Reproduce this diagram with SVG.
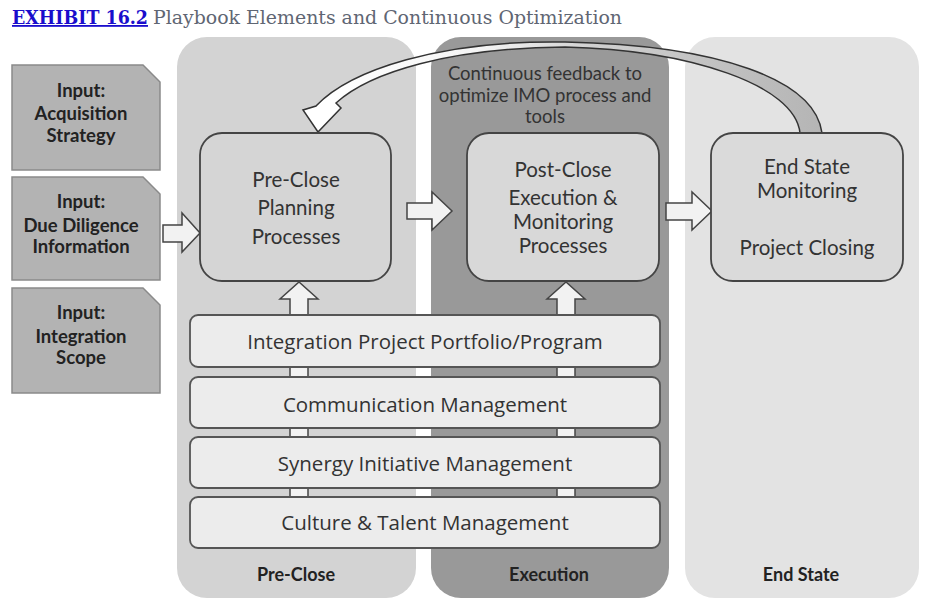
<svg xmlns="http://www.w3.org/2000/svg" width="928" height="612" viewBox="0 0 928 612">
<defs>
<style>
.col{stroke:none}
.inp{fill:#b3b3b3;stroke:#8a8a8a;stroke-width:1.5}
.inpt{font-family:Lato,"Open Sans",sans-serif;font-weight:bold;font-size:18.5px;fill:#222;text-anchor:middle}
.box{stroke:#444;stroke-width:1.8}
.bt{font-family:Lato,"Open Sans",sans-serif;font-size:20.5px;fill:#333;text-anchor:middle}
.br{font-family:"Open Sans","Noto Sans",sans-serif;font-size:20.5px;fill:#333;text-anchor:middle}
.fbt{font-family:Lato,"Open Sans",sans-serif;font-size:18.5px;fill:#333;text-anchor:middle}
.bar{fill:#ececec;stroke:#555;stroke-width:1.8}
.blk{fill:#f2f2f2;stroke:#444;stroke-width:1.5;stroke-linejoin:miter}
.lab{font-family:Lato,"Open Sans",sans-serif;font-weight:bold;font-size:18px;fill:#222;text-anchor:middle}
</style>
<linearGradient id="fb" x1="820" y1="0" x2="330" y2="0" gradientUnits="userSpaceOnUse">
<stop offset="0" stop-color="#b5b5b5"/>
<stop offset="0.45" stop-color="#cfcfcf"/>
<stop offset="0.7" stop-color="#f5f5f5"/>
<stop offset="1" stop-color="#ffffff"/>
</linearGradient>
</defs>
<rect width="928" height="612" fill="#ffffff"/>
<g id="title">
<text x="12" y="24" font-family="'DejaVu Serif','Liberation Serif',serif" font-size="18px" font-weight="bold" fill="#1a0dcc" text-decoration="underline" textLength="136" lengthAdjust="spacingAndGlyphs">EXHIBIT 16.2</text>
<text x="153" y="24" font-family="'DejaVu Serif','Liberation Serif',serif" font-size="18px" fill="#5f6673" textLength="469" lengthAdjust="spacingAndGlyphs">Playbook Elements and Continuous Optimization</text>
</g>
<g id="col-preclose"><rect class="col" x="177" y="37" width="239" height="561" rx="30" fill="#d3d3d3"/></g>
<g id="col-execution"><rect class="col" x="431" y="37" width="238" height="561" rx="30" fill="#999999"/></g>
<g id="col-endstate"><rect class="col" x="685" y="37" width="234" height="561" rx="30" fill="#e3e3e3"/></g>
<g id="input-acq">
<path class="inp" d="M12,65 H143 L160,82 V170 H12 Z"/>
<text class="inpt" x="81" y="97">Input:</text>
<text class="inpt" x="81" y="120">Acquisition</text>
<text class="inpt" x="81" y="142">Strategy</text>
</g>
<g id="input-dd">
<path class="inp" d="M12,177 H143 L160,194 V280 H12 Z"/>
<text class="inpt" x="81" y="208">Input:</text>
<text class="inpt" x="81" y="232">Due Diligence</text>
<text class="inpt" x="81" y="253">Information</text>
</g>
<g id="input-scope">
<path class="inp" d="M12,288 H143 L160,305 V393 H12 Z"/>
<text class="inpt" x="81" y="319">Input:</text>
<text class="inpt" x="81" y="343">Integration</text>
<text class="inpt" x="81" y="364">Scope</text>
</g>
<g id="connectors">
<path class="blk" d="M163,225 H182 V213 L200,233 L182,252 V242 H163 Z"/>
<path class="blk" d="M407,203 H432 V192 L452,211 L432,230 V219 H407 Z"/>
<path class="blk" d="M666,203 H692 V192 L712,211 L692,230 V220 H666 Z"/>
<path class="blk" d="M290,548 V299 H280 L299,282 L318,299 H308 V548 Z"/>
<path class="blk" d="M557,548 V299 H547 L566,282 L585,299 H575 V548 Z"/>
<path d="M822,133 C815,80 720,45 565,42 C440,40 350,70 316,106 L303,110 L318,132 L341,108 L336,103 C370,72 450,48 565,47 C690,50 795,85 800,133 Z" fill="url(#fb)" stroke="#333" stroke-width="1.5" stroke-linejoin="miter"/>
</g>
<g id="feedback-label">
<text class="fbt" x="545" y="80">Continuous feedback to</text>
<text class="fbt" x="545" y="102">optimize IMO process and</text>
<text class="fbt" x="545" y="123">tools</text>
</g>
<g id="preclose-planning">
<rect class="box" x="200" y="133" width="191" height="148" rx="22" fill="#d5d5d5"/>
<text class="bt" x="296" y="187">Pre-Close</text>
<text class="bt" x="296" y="215">Planning</text>
<text class="bt" x="296" y="244">Processes</text>
</g>
<g id="postclose">
<rect class="box" x="467" y="133" width="192" height="148" rx="22" fill="#d8d8d8"/>
<text class="bt" x="563" y="177">Post-Close</text>
<text class="bt" x="563" y="205">Execution &amp;</text>
<text class="bt" x="563" y="229">Monitoring</text>
<text class="bt" x="563" y="253">Processes</text>
</g>
<g id="endstate-monitoring">
<rect class="box" x="711" y="133" width="192" height="148" rx="22" fill="#dadada"/>
<text class="bt" x="807" y="174">End State</text>
<text class="bt" x="807" y="198">Monitoring</text>
<text class="bt" x="807" y="255">Project Closing</text>
</g>
<g id="bar-portfolio">
<rect class="bar" x="190" y="315" width="470" height="52" rx="8"/>
<text class="br" x="425" y="349">Integration Project Portfolio/Program</text>
</g>
<g id="bar-communication">
<rect class="bar" x="190" y="377" width="470" height="51" rx="8"/>
<text class="br" x="425" y="412">Communication Management</text>
</g>
<g id="bar-synergy">
<rect class="bar" x="190" y="437" width="470" height="51" rx="8"/>
<text class="br" x="425" y="471">Synergy Initiative Management</text>
</g>
<g id="bar-culture">
<rect class="bar" x="190" y="497" width="470" height="51" rx="8"/>
<text class="br" x="425" y="530">Culture &amp; Talent Management</text>
</g>
<g id="labels">
<text class="lab" x="296" y="581">Pre-Close</text>
<text class="lab" x="549" y="581">Execution</text>
<text class="lab" x="801" y="581">End State</text>
</g>
</svg>
